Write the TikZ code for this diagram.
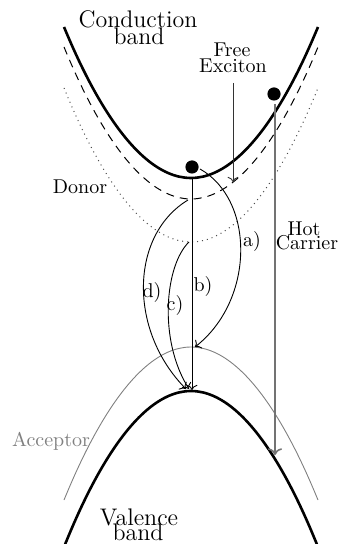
\documentclass[tikz,border=0pt]{standalone}
\usetikzlibrary{arrows.meta}
\begin{document}
\begin{tikzpicture}[x=0.5pt,y=-0.5pt,
  bandline/.style={line width=1.3pt},
  thinline/.style={line width=0.45pt},
  lbl/.style={anchor=base,inner sep=0pt},
  biglbl/.style={anchor=base,inner sep=0pt,font=\large},
  dot/.style={circle,fill=black,inner sep=0pt,minimum size=6.6pt},
  trans/.style={thinline,->}]
\useasboundingbox (0,0) rectangle (338,544);
% bands and levels
\draw[bandline] (64,27) parabola bend (191,178) (318,27);
\draw[line width=0.5pt,dash pattern=on 4pt off 3pt] (64,47) parabola bend (191,199) (318,47);
\draw[line width=0.5pt,dotted,black!70] (64,88) parabola bend (191,242) (318,88);
\draw[thinline,black!50] (64,500) parabola bend (191,347) (318,500);
\draw[bandline] (64,547) parabola bend (191,391) (318,547);
% carriers
\node[dot] (e1) at (192,167) {};
\node[dot] (e2) at (274,94) {};
% coordinates
\coordinate (cb) at (192,178);
\coordinate (dn) at (188,200);
\coordinate (dd) at (189,242);
\coordinate (acc) at (195,347);
\coordinate (vb) at (192,390);
\coordinate (vbd) at (186,389);
\coordinate (vbc) at (189,389);
\coordinate (fxs) at (233,83);
\coordinate (fxe) at (233,182);
\coordinate (hcs) at (275,104);
\coordinate (hce) at (275,455);
\coordinate (as) at (200,169);
% transitions
\draw[trans] (cb) -- (vb);
\draw[trans] (as) .. controls (255,200) and (255,300) .. (acc);
\draw[trans] (dn) .. controls (130,235) and (128,330) .. (vbd);
\draw[trans] (dd) .. controls (165,265) and (158,340) .. (vbc);
\draw[thinline,black!80,->] (fxs) -- (fxe);
\draw[line width=0.8pt,black!55,->] (hcs) -- (hce);
% labels
\node[biglbl] (cond1) at (138,28) {Conduction};
\node[biglbl] (cond2) at (139,45) {band};
\node[biglbl] (val1) at (139,525) {Valence};
\node[biglbl] (val2) at (138,540) {band};
\node[lbl] (fx1) at (232,57) {Free};
\node[lbl] (fx2) at (233,73) {Exciton};
\node[lbl] (hc1) at (304,236) {Hot};
\node[lbl] (hc2) at (307,250) {Carrier};
\node[lbl] (don) at (80,194) {Donor};
\node[lbl,text=black!50] (acp) at (51,446) {Acceptor};
\node[lbl] (la) at (252,247) {a)};
\node[lbl] (lb) at (203,292) {b)};
\node[lbl] (lc) at (175,310) {c)};
\node[lbl] (ld) at (152,298) {d)};
\end{tikzpicture}
\end{document}
